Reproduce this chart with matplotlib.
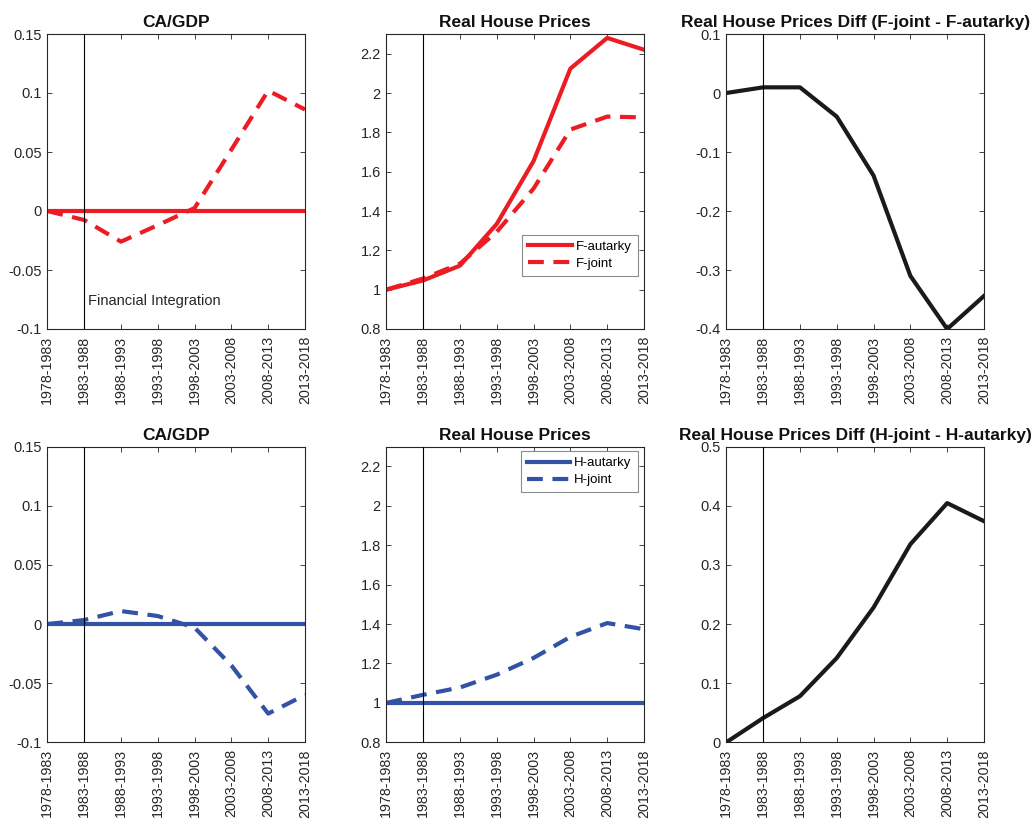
import matplotlib
matplotlib.use("Agg")
import matplotlib.pyplot as plt
import numpy as np

plt.rcParams['font.family'] = ['Liberation Sans', 'DejaVu Sans']
plt.rcParams['axes.unicode_minus'] = False

periods = ["1978-1983", "1983-1988", "1988-1993", "1993-1998",
           "1998-2003", "2003-2008", "2008-2013", "2013-2018"]

# Foreign (F) economy
ca_f_autarky = [0, 0, 0, 0, 0, 0, 0, 0]
ca_f_joint = [0.0, -0.0076, -0.026, -0.012, 0.0025, 0.052, 0.102, 0.086]
hp_f_autarky = [1.0, 1.047, 1.122, 1.334, 1.654, 2.124, 2.280, 2.220]
hp_f_joint = [1.0, 1.057, 1.132, 1.294, 1.514, 1.814, 1.880, 1.876]
hp_f_diff = [0.0, 0.0096, 0.0096, -0.040, -0.140, -0.310, -0.400, -0.344]

# Home (H) economy
ca_h_autarky = [0, 0, 0, 0, 0, 0, 0, 0]
ca_h_joint = [0.0, 0.0034, 0.011, 0.0068, -0.003, -0.035, -0.0757, -0.060]
hp_h_autarky = [1, 1, 1, 1, 1, 1, 1, 1]
hp_h_joint = [1.0, 1.041, 1.078, 1.143, 1.228, 1.335, 1.405, 1.374]
hp_h_diff = [0.0, 0.041, 0.078, 0.1426, 0.228, 0.335, 0.4046, 0.374]

integration_index = 1

RED = '#EC1C24'
BLUE = '#3352A6'
BLACK = '#1a1a1a'
AXC = '#262626'

W, H = 1034, 819
fig = plt.figure(figsize=(W / 100, H / 100), dpi=100)

lefts = [47.3, 386.3, 726.3]
width = 257.7
rows = [(34.0, 329.0), (446.7, 742.3)]


def make_ax(r, c):
    top, bot = rows[r]
    return fig.add_axes([lefts[c] / W, (H - bot) / H, width / W, (bot - top) / H])


def fmt(v):
    s = ('%.2f' % v).rstrip('0').rstrip('.')
    if s in ('-0', ''):
        s = '0'
    return s


def style(ax, title, ylim, yticks):
    x = np.arange(len(periods))
    ax.set_xlim(x[0], x[-1])
    ax.set_xticks(x)
    ax.set_xticklabels(periods, rotation=90, fontsize=10.3, color=AXC)
    ax.set_ylim(*ylim)
    ax.set_yticks(yticks)
    ax.set_yticklabels([fmt(v) for v in yticks], fontsize=10.5, color=AXC)
    ax.tick_params(direction='in', length=3.5, width=0.6, color=AXC,
                   top=True, right=True)
    ax.tick_params(axis='x', pad=5)
    ax.tick_params(axis='y', pad=4)
    for s in ax.spines.values():
        s.set_color(AXC)
        s.set_linewidth(0.8)
    ax.set_title(title, fontsize=12.5, fontweight='bold', pad=5, color='#111111')
    ax.axvline(integration_index, color='black', lw=0.8, zorder=5)


x = np.arange(len(periods))
lw = 3.0
dash = (3.8, 2.3)

# Row 1: F
ax = make_ax(0, 0)
ax.plot(x, ca_f_autarky, color=RED, lw=lw)
ax.plot(x, ca_f_joint, color=RED, lw=lw, ls='--', dashes=dash)
style(ax, 'CA/GDP', (-0.1, 0.15), [-0.1, -0.05, 0, 0.05, 0.1, 0.15])
ax.text(integration_index + 0.1, -0.0763, 'Financial Integration',
        fontsize=10.5, color=AXC, va='center', ha='left')

ax = make_ax(0, 1)
ax.plot(x, hp_f_autarky, color=RED, lw=lw, label='F-autarky')
ax.plot(x, hp_f_joint, color=RED, lw=lw, ls='--', dashes=dash, label='F-joint')
style(ax, 'Real House Prices', (0.8, 2.3), [0.8, 1.0, 1.2, 1.4, 1.6, 1.8, 2.0, 2.2])
leg = ax.legend(loc='lower right', bbox_to_anchor=(0.975, 0.18), fontsize=9.5,
                fancybox=False, framealpha=1, edgecolor='#8c8c8c',
                handlelength=3.3, handletextpad=0.3, borderpad=0.45,
                labelspacing=0.35, borderaxespad=0)
leg.get_frame().set_linewidth(0.8)

ax = make_ax(0, 2)
ax.plot(x, hp_f_diff, color=BLACK, lw=lw)
style(ax, 'Real House Prices Diff (F-joint - F-autarky)', (-0.4, 0.1),
      [-0.4, -0.3, -0.2, -0.1, 0, 0.1])

# Row 2: H
ax = make_ax(1, 0)
ax.plot(x, ca_h_autarky, color=BLUE, lw=lw)
ax.plot(x, ca_h_joint, color=BLUE, lw=lw, ls='--', dashes=dash)
style(ax, 'CA/GDP', (-0.1, 0.15), [-0.1, -0.05, 0, 0.05, 0.1, 0.15])

ax = make_ax(1, 1)
ax.plot(x, hp_h_autarky, color=BLUE, lw=lw, label='H-autarky')
ax.plot(x, hp_h_joint, color=BLUE, lw=lw, ls='--', dashes=dash, label='H-joint')
style(ax, 'Real House Prices', (0.8, 2.3), [0.8, 1.0, 1.2, 1.4, 1.6, 1.8, 2.0, 2.2])
leg = ax.legend(loc='upper right', bbox_to_anchor=(0.975, 0.985), fontsize=9.5,
                fancybox=False, framealpha=1, edgecolor='#8c8c8c',
                handlelength=3.3, handletextpad=0.3, borderpad=0.45,
                labelspacing=0.35, borderaxespad=0)
leg.get_frame().set_linewidth(0.8)

ax = make_ax(1, 2)
ax.plot(x, hp_h_diff, color=BLACK, lw=lw)
style(ax, 'Real House Prices Diff (H-joint - H-autarky)', (0, 0.5),
      [0, 0.1, 0.2, 0.3, 0.4, 0.5])

fig.savefig('out.png', dpi=100)
